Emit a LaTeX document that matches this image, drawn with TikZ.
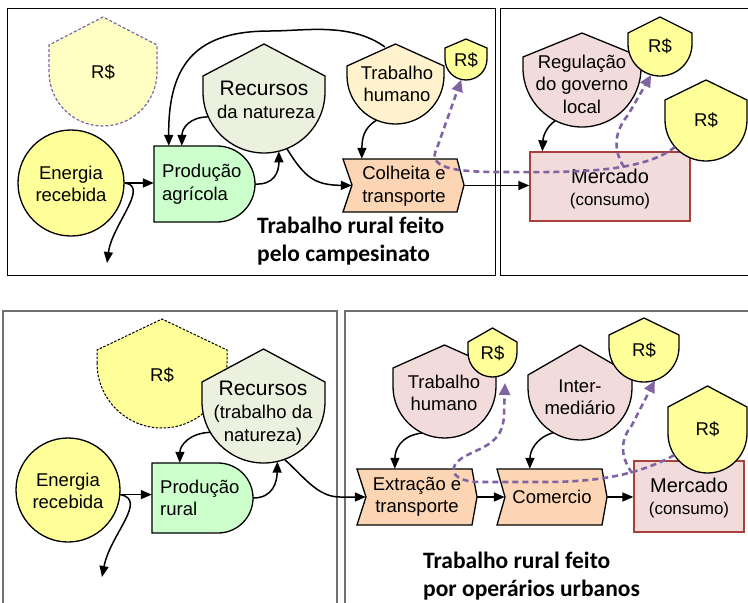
\documentclass[tikz,border=0pt]{standalone}
\usepackage{fontspec}
\setmainfont{Liberation Sans}
\newfontfamily\titlefont{Carlito}
\usetikzlibrary{arrows.meta,calc}

\definecolor{sunyel}{HTML}{FFFF99}
\definecolor{paleyel}{HTML}{FFFFC4}
\definecolor{prodgreen}{HTML}{CCFFCC}
\definecolor{natgreen}{HTML}{EBF1DE}
\definecolor{cream}{HTML}{FFF2CC}
\definecolor{rose}{HTML}{F2DCDB}
\definecolor{peach}{HTML}{FCD5B5}
\definecolor{brick}{HTML}{A8403D}
\definecolor{purp}{HTML}{8064A2}
\definecolor{framegray}{HTML}{707070}

% consumer symbol: pointed roof, straight sides, round bottom
% #1 name, #2 style, #3 cx, #4 cy, #5 radius, #6 shoulder y, #7 apex y
\newcommand\shieldshape[7]{%
  \path[#2] (#3-#5,#4) -- (#3-#5,#6) -- (#3,#7) -- (#3+#5,#6) -- (#3+#5,#4)
    arc[start angle=0,end angle=180,radius=#5] -- cycle;
  \node[circle,inner sep=0pt,minimum size={2*#5pt}] (#1) at (#3,#4) {};}

\tikzset{
  outl/.style={draw=black,line width=1.3pt},
  txt/.style={font=\fontsize{18.5}{22.5}\selectfont,align=center,inner sep=0pt},
  bigtxt/.style={font=\fontsize{21}{25}\selectfont,inner sep=0pt},
  merctxt/.style={font=\fontsize{20}{24}\selectfont,inner sep=0pt},
  smalltxt/.style={font=\fontsize{17}{21}\selectfont,inner sep=0pt},
  ttl/.style={font=\titlefont\bfseries\fontsize{23.5}{28}\selectfont,align=left,inner sep=0pt},
  flow/.style={line width=1.5pt,-{Triangle[length=11pt,width=9pt]}},
  money/.style={draw=purp,line width=2.6pt,dash pattern=on 6pt off 4pt,
    -{Triangle[length=12pt,width=11pt,fill=purp]}},
  frame/.style={draw=black,line width=1pt},
  lowframe/.style={draw=framegray,line width=1.3pt},
}

\begin{document}
\begin{tikzpicture}[x=1pt,y=-1pt]
\useasboundingbox (0,0) rectangle (748,603);

% ---------------- frames ----------------
\draw[frame] (7,8) rectangle (495,275);
\draw[frame] (500,8) rectangle (752,275);
\draw[lowframe] (3,311) rectangle (337,612);
\draw[lowframe] (345,311) rectangle (756,612);

% ================= upper panel =================
\shieldshape{rsa}{fill=paleyel,draw=purp,line width=1.2pt,dash pattern=on 3pt off 2pt}{103}{72}{54}{45}{17}
\node[txt] (rsa-t) at (103,72) {R\$};

\node[circle,outl,fill=sunyel,minimum size=106pt,inner sep=0pt] (en) at (71,183) {};
\node[txt] (en-t) at (71,184) {Energia\\recebida};

\path[outl,fill=prodgreen] (154,146) -- (217,146) arc[start angle=-90,end angle=90,radius=38] -- (154,222) -- cycle;
\node[minimum width=101pt,minimum height=76pt,inner sep=0pt] (prod) at (204.5,184) {};
\node[txt,align=left,anchor=west] (prod-t) at (162,184) {Produção\\agrícola};

\shieldshape{rec}{outl,fill=natgreen}{264}{92}{61}{76}{44}
\node[bigtxt] (rec-t1) at (264,88) {Recursos};
\node[txt] (rec-t2) at (266,112) {da natureza};

\shieldshape{th}{outl,fill=cream}{395.5}{75.5}{48.5}{66}{44}
\node[txt] (th-t) at (397,84) {Trabalho\\humano};

\shieldshape{rsb}{outl,fill=sunyel}{466}{59}{21}{48}{39}
\node[txt] (rsb-t) at (466,60) {R\$};

\path[outl,fill=peach] (343,159) -- (457,159) -- (464,185) -- (457,212) -- (343,212) -- (352,185) -- cycle;
\node[minimum width=121pt,minimum height=53pt,inner sep=0pt] (col) at (403.5,185.5) {};
\node[txt] (col-t) at (404,186) {Colheita e\\transporte};

\node[ttl,anchor=west] (ttl1) at (257,241) {Trabalho rural feito\\pelo campesinato};

\shieldshape{reg}{outl,fill=rose}{582}{68}{59}{57}{33}
\node[txt] (reg-t) at (582,84) {Regulação\\do governo\\local};

\shieldshape{rsc}{outl,fill=sunyel}{660}{44}{32}{33}{17}
\node[txt] (rsc-t) at (660,46) {R\$};

\node[draw=brick,line width=1.3pt,fill=rose,minimum width=160pt,minimum height=69pt,inner sep=0pt] (merc) at (610,186.5) {};
\node[merctxt] (merc-t1) at (610,176) {Mercado};
\node[smalltxt] (merc-t2) at (610,201) {(consumo)};

\shieldshape{rsd}{outl,fill=sunyel}{706}{120}{41}{100}{80}
\node[txt] (rsd-t) at (706,120) {R\$};

% energy flows
\draw[flow] (en.east) -- (en.east -| prod.west);
\coordinate (sinkA) at (107,263);
\draw[flow] (en.east) .. controls (150,186) and (112,225) .. (sinkA);
\draw[flow] (prod.east) .. controls (274,185) and (279,172) .. (rec.284);
\draw[flow] (rec.204) .. controls (190,117) and (182,128) .. ($(prod.north west)+(28,0)$);
\draw[flow] ($(th.center)+(-10.5,-28.5)$) .. controls (350,22) and (305,31) .. (270,31)
  .. controls (200,31) and (168,60) .. ($(prod.north west)+(15,0)$);
\draw[flow] (rec.292) .. controls (305,178) and (315,185) .. ($(col.west)+(9,0)$);
\draw[flow] (th.247) .. controls (363,128) and (362,140) .. ($(col.north west)+(19,0)$);
\draw[flow] (col.east) -- (col.east -| merc.west);
\draw[flow] (reg.243) .. controls (545,128) and (543,138) .. ($(merc.north west)+(13,0)$);

% money flows
\coordinate (jA) at (624,167);
\draw[money] (rsd.221) .. controls (640,175) and (560,172) .. (500,172)
  .. controls (455,172) and (426,168) .. (437,148) -- (rsb.257);
\draw[money] (jA) .. controls (613,150) and (614,132) .. (628,115) -- (rsc.254);

% ================= lower panel =================
\shieldshape{rse}{fill=sunyel,draw=black,line width=1pt,dash pattern=on 2.5pt off 1.5pt}{162}{363}{65}{350}{319}
\node[txt] (rse-t) at (162,375) {R\$};

\shieldshape{rec2}{outl,fill=natgreen}{263.5}{401.5}{61.5}{382}{349}
\node[bigtxt] (rec2-t1) at (263,388) {Recursos};
\node[txt] (rec2-t2) at (263,425) {(trabalho da\\natureza)};

\node[circle,outl,fill=sunyel,minimum size=104pt,inner sep=0pt] (en2) at (68,490) {};
\node[txt] (en2-t) at (68,491) {Energia\\recebida};

\path[outl,fill=prodgreen] (152,463) -- (218,463) arc[start angle=-90,end angle=90,radius=35] -- (152,533) -- cycle;
\node[minimum width=101pt,minimum height=70pt,inner sep=0pt] (prod2) at (202.5,498) {};
\node[txt,align=left,anchor=west] (prod2-t) at (160,498) {Produção\\rural};

\shieldshape{th2}{outl,fill=rose}{444.5}{386.5}{51.5}{368}{345}
\node[txt] (th2-t) at (444,393) {Trabalho\\humano};

\shieldshape{rsf}{outl,fill=sunyel}{492.5}{352.5}{24.5}{342}{328}
\node[txt] (rsf-t) at (492.5,353) {R\$};

\shieldshape{inter}{outl,fill=rose}{580}{388}{52}{375}{345}
\node[txt] (inter-t) at (580,397) {Inter-\\mediário};

\shieldshape{rsg}{outl,fill=sunyel}{644}{347}{35}{335}{318}
\node[txt] (rsg-t) at (644,350) {R\$};

\path[outl,fill=peach] (357,469) -- (472,469) -- (477,497) -- (472,525) -- (357,525) -- (366,497) -- cycle;
\node[minimum width=120pt,minimum height=56pt,inner sep=0pt] (ext) at (417,497) {};
\node[txt] (ext-t) at (417,497) {Extração e\\transporte};

\path[outl,fill=peach] (497,469) -- (602,469) -- (607,497) -- (602,525) -- (497,525) -- (505,497) -- cycle;
\node[minimum width=110pt,minimum height=56pt,inner sep=0pt] (com) at (552,497) {};
\node[txt] (com-t) at (552,497) {Comercio};

\node[draw=brick,line width=1.3pt,fill=rose,minimum width=110pt,minimum height=71pt,inner sep=0pt] (merc2) at (689,496.5) {};
\node[merctxt] (merc2-t1) at (689,485) {Mercado};
\node[smalltxt] (merc2-t2) at (689,510) {(consumo)};

\shieldshape{rsh}{outl,fill=sunyel}{707.5}{433.5}{39.5}{407}{386}
\node[txt] (rsh-t) at (707.5,429) {R\$};

\node[ttl,anchor=west] (ttl2) at (423,576) {Trabalho rural feito\\por operários urbanos};

% energy flows
\draw[flow] (en2.-5) -- (en2.-5 -| prod2.west);
\coordinate (sinkB) at (102,577);
\draw[flow] (en2.-5) .. controls (148,500) and (110,535) .. (sinkB);
\draw[flow] (prod2.east) .. controls (273,498) and (277,482) .. (rec2.283);
\draw[flow] (rec2.210) .. controls (190,433) and (180,445) .. ($(prod2.north west)+(28,0)$);
\draw[flow] (rec2.290) .. controls (305,478) and (318,497) .. (340,497) -- ($(ext.west)+(9,0)$);
\draw[flow] (th2.244) .. controls (400,436) and (395,450) .. ($(ext.north west)+(38,0)$);
\draw[flow] (inter.239) .. controls (535,438) and (530,452) .. ($(com.north west)+(33,0)$);
\draw[flow] (ext.east) -- ($(com.west)+(8,0)$);
\draw[flow] (com.east) -- (com.east -| merc2.west);

% money flows
\coordinate (jB) at (632,473);
\coordinate (tipB) at (505,383);
\draw[money] (rsh.213) .. controls (640,474) and (600,482) .. (545,482) -- (480,482)
  .. controls (455,482) and (445,470) .. (462,458)
  .. controls (480,447) and (503,445) .. (504,415) -- (tipB);
\draw[money] (jB) .. controls (620,456) and (620,440) .. (632,425) -- (rsg.288);

\end{tikzpicture}
\end{document}
